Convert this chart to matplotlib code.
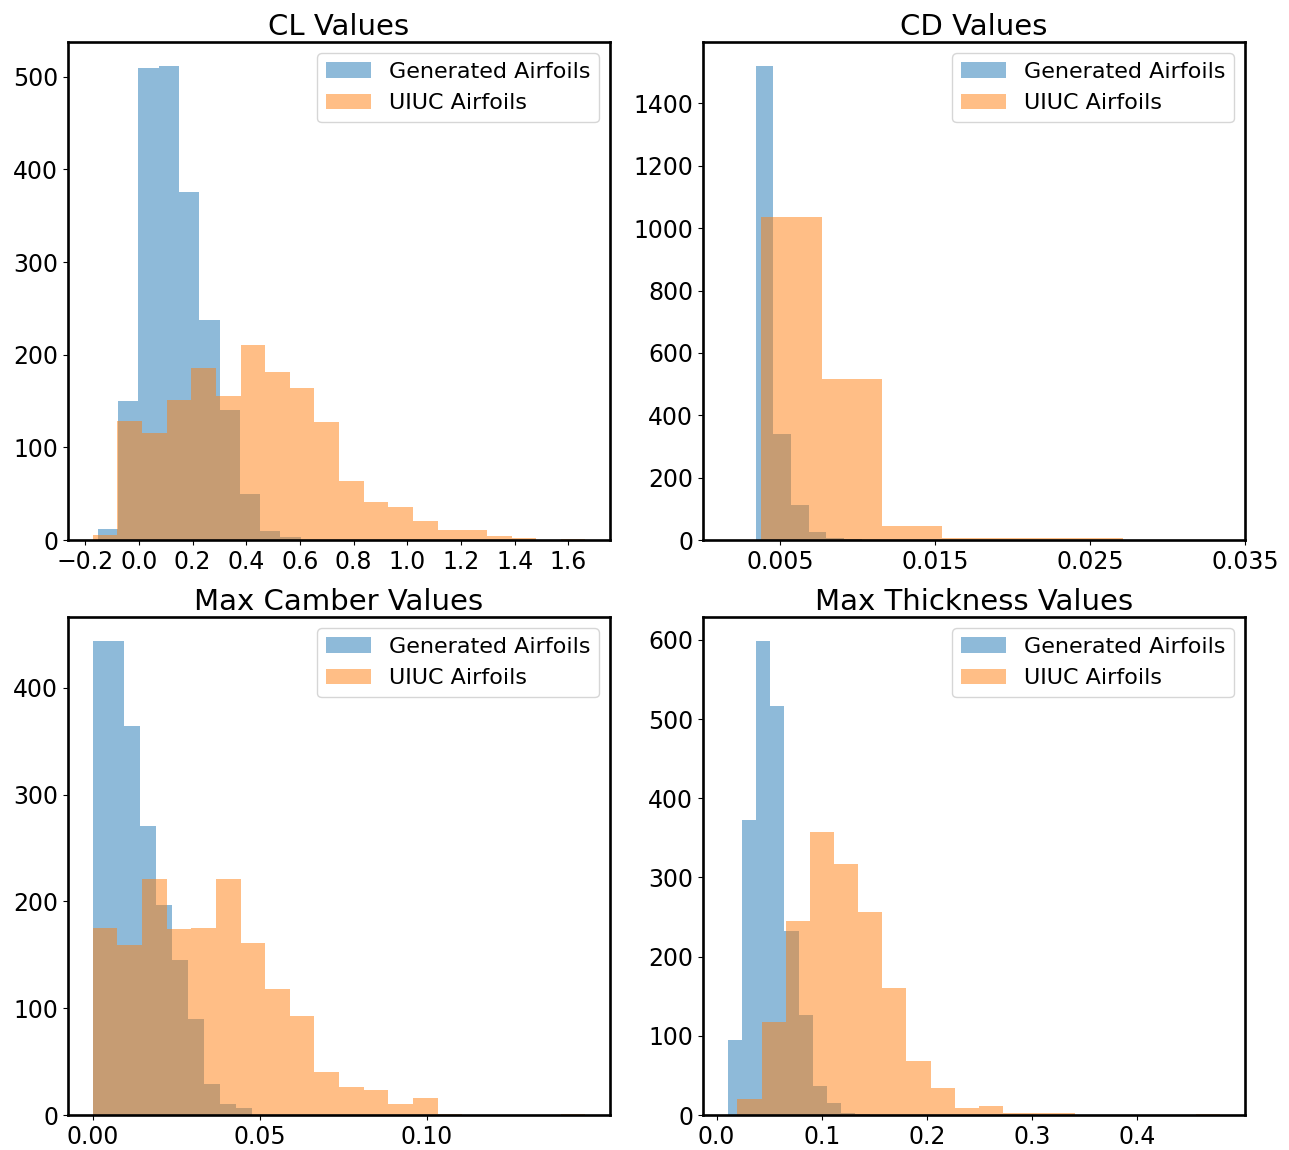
import numpy as np
import matplotlib
matplotlib.use('Agg')
import matplotlib.pyplot as plt

# histogram counts, with bin ranges (lo, hi)
cl_gen_range = (-0.153, 0.603)
cl_gen = [12, 150, 509, 512, 376, 237, 140, 50, 10, 3]
cl_uiuc_range = (-0.172, 1.664)
cl_uiuc = [5, 128, 115, 151, 186, 155, 210, 181, 164, 127,
           64, 41, 36, 20, 11, 11, 4, 2, 0, 1]

cd_gen_range = (0.00341, 0.01480)
cd_gen = [1521, 341, 111, 27, 7, 2, 1, 0, 0, 1]
cd_uiuc_range = (0.00376, 0.0271)
cd_uiuc = [1035, 515, 46, 6, 5, 6]

camber_gen_range = (0.0, 0.0476)
camber_gen = [444, 444, 364, 271, 197, 145, 90, 29, 10, 7]
camber_uiuc_range = (0.0, 0.1476)
camber_uiuc = [175, 159, 221, 174, 175, 221, 161, 118, 93, 40,
               26, 23, 10, 16, 1, 0, 0, 0, 0, 1]

thick_gen_range = (0.0105, 0.1455)
thick_gen = [95, 372, 599, 517, 233, 126, 37, 15, 2, 1]
thick_uiuc_range = (0.0197, 0.479)
thick_uiuc = [20, 118, 245, 357, 317, 256, 161, 68, 34, 9,
              12, 3, 3, 2, 0, 0, 0, 0, 0, 1]

titles = ['CL Values', 'CD Values', 'Max Camber Values', 'Max Thickness Values']
labels = ['Generated Airfoils', 'UIUC Airfoils']


def draw(ax, rng, counts, label):
    edges = np.linspace(rng[0], rng[1], len(counts) + 1)
    ax.hist(edges[:-1], bins=edges, weights=counts, alpha=0.5, label=label)


fig, axs = plt.subplots(2, 2, figsize=(12.89, 11.5), dpi=100)
plt.subplots_adjust(left=0.0528, right=0.9659, top=0.9635, bottom=0.0304,
                    wspace=0.1716, hspace=0.1546)

data = [(cl_gen_range, cl_gen, cl_uiuc_range, cl_uiuc),
        (cd_gen_range, cd_gen, cd_uiuc_range, cd_uiuc),
        (camber_gen_range, camber_gen, camber_uiuc_range, camber_uiuc),
        (thick_gen_range, thick_gen, thick_uiuc_range, thick_uiuc)]

for ax, title, (gr, gc, ur, uc) in zip(axs.flat, titles, data):
    draw(ax, gr, gc, labels[0])
    draw(ax, ur, uc, labels[1])
    ax.set_title(title, fontsize=21, pad=5)
    ax.legend(loc='upper right', fontsize=16)
    ax.tick_params(labelsize=17)
    for s in ax.spines.values():
        s.set_linewidth(1.9)

axs[0, 0].set_xticks(np.round(np.arange(-0.2, 1.61, 0.2), 1))
axs[0, 1].set_xlim(0, 0.035)
axs[0, 1].set_xticks([0.005, 0.015, 0.025, 0.035])
axs[1, 0].set_xticks([0.0, 0.05, 0.10])
axs[1, 1].set_xticks([0.0, 0.1, 0.2, 0.3, 0.4])

fig.savefig('out.png', dpi=100)
